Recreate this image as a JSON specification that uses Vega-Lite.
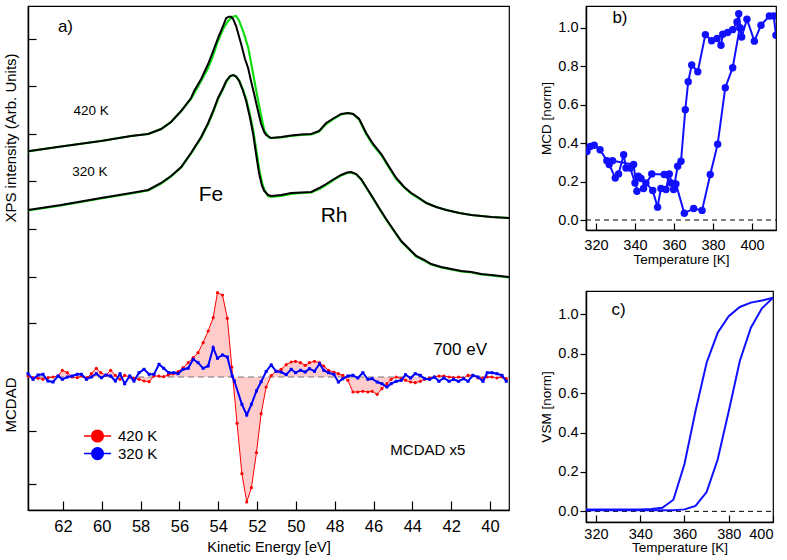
{
  "$schema": "https://vega.github.io/schema/vega-lite/v6.json",
  "padding": {"left": 3, "top": 5, "right": 5, "bottom": 2},
  "bounds": "flush",
  "spacing": 77,
  "config": {
    "font": "Liberation Sans",
    "view": {"stroke": "black", "strokeWidth": 1.2},
    "axis": {"domainColor": "black", "domainWidth": 1.5, "tickColor": "black", "tickWidth": 1.2, "labelColor": "black", "titleColor": "black", "grid": false, "labelFont": "Liberation Sans", "titleFont": "Liberation Sans", "titleFontWeight": "normal"},
    "text": {"font": "Liberation Sans", "color": "black"}
  },
  "datasets": {
    "xps": [
      {"E":63.80,"y":2.257,"T":"420 K","c":"k"},{"E":62.10,"y":2.305,"T":"420 K","c":"k"},{"E":60.04,"y":2.36,"T":"420 K","c":"k"},{"E":58.49,"y":2.41,"T":"420 K","c":"k"},{"E":57.61,"y":2.43,"T":"420 K","c":"k"},{"E":56.94,"y":2.48,"T":"420 K","c":"k"},{"E":56.43,"y":2.55,"T":"420 K","c":"k"},{"E":55.91,"y":2.66,"T":"420 K","c":"k"},{"E":55.40,"y":2.79,"T":"420 K","c":"k"},{"E":55.24,"y":2.86,"T":"420 K","c":"k"},{"E":54.88,"y":2.98,"T":"420 K","c":"k"},{"E":54.52,"y":3.13,"T":"420 K","c":"k"},{"E":54.26,"y":3.26,"T":"420 K","c":"k"},{"E":54.01,"y":3.39,"T":"420 K","c":"k"},{"E":53.75,"y":3.51,"T":"420 K","c":"k"},{"E":53.59,"y":3.59,"T":"420 K","c":"k"},{"E":53.44,"y":3.603,"T":"420 K","c":"k"},{"E":53.34,"y":3.603,"T":"420 K","c":"k"},{"E":53.23,"y":3.58,"T":"420 K","c":"k"},{"E":53.08,"y":3.51,"T":"420 K","c":"k"},{"E":52.82,"y":3.33,"T":"420 K","c":"k"},{"E":52.62,"y":3.18,"T":"420 K","c":"k"},{"E":52.46,"y":3.09,"T":"420 K","c":"k"},{"E":52.31,"y":2.96,"T":"420 K","c":"k"},{"E":52.15,"y":2.83,"T":"420 K","c":"k"},{"E":51.95,"y":2.66,"T":"420 K","c":"k"},{"E":51.79,"y":2.53,"T":"420 K","c":"k"},{"E":51.63,"y":2.45,"T":"420 K","c":"k"},{"E":51.53,"y":2.42,"T":"420 K","c":"k"},{"E":51.27,"y":2.39,"T":"420 K","c":"k"},{"E":50.76,"y":2.40,"T":"420 K","c":"k"},{"E":50.24,"y":2.415,"T":"420 K","c":"k"},{"E":49.73,"y":2.425,"T":"420 K","c":"k"},{"E":49.21,"y":2.43,"T":"420 K","c":"k"},{"E":48.80,"y":2.46,"T":"420 K","c":"k"},{"E":48.44,"y":2.54,"T":"420 K","c":"k"},{"E":48.03,"y":2.59,"T":"420 K","c":"k"},{"E":47.67,"y":2.63,"T":"420 K","c":"k"},{"E":47.31,"y":2.64,"T":"420 K","c":"k"},{"E":47.05,"y":2.63,"T":"420 K","c":"k"},{"E":46.74,"y":2.58,"T":"420 K","c":"k"},{"E":46.38,"y":2.44,"T":"420 K","c":"k"},{"E":46.02,"y":2.33,"T":"420 K","c":"k"},{"E":45.60,"y":2.23,"T":"420 K","c":"k"},{"E":45.19,"y":2.10,"T":"420 K","c":"k"},{"E":44.83,"y":1.99,"T":"420 K","c":"k"},{"E":44.42,"y":1.90,"T":"420 K","c":"k"},{"E":44.06,"y":1.84,"T":"420 K","c":"k"},{"E":43.65,"y":1.79,"T":"420 K","c":"k"},{"E":43.28,"y":1.74,"T":"420 K","c":"k"},{"E":42.77,"y":1.70,"T":"420 K","c":"k"},{"E":42.25,"y":1.67,"T":"420 K","c":"k"},{"E":41.58,"y":1.64,"T":"420 K","c":"k"},{"E":40.96,"y":1.62,"T":"420 K","c":"k"},{"E":39.93,"y":1.60,"T":"420 K","c":"k"},{"E":39.02,"y":1.59,"T":"420 K","c":"k"},
      {"E":63.80,"y":2.257,"T":"420 K","c":"g"},{"E":62.10,"y":2.305,"T":"420 K","c":"g"},{"E":60.04,"y":2.36,"T":"420 K","c":"g"},{"E":58.49,"y":2.41,"T":"420 K","c":"g"},{"E":57.61,"y":2.43,"T":"420 K","c":"g"},{"E":56.94,"y":2.48,"T":"420 K","c":"g"},{"E":56.43,"y":2.55,"T":"420 K","c":"g"},{"E":55.91,"y":2.66,"T":"420 K","c":"g"},{"E":55.40,"y":2.78,"T":"420 K","c":"g"},{"E":54.88,"y":2.96,"T":"420 K","c":"g"},{"E":54.52,"y":3.09,"T":"420 K","c":"g"},{"E":54.26,"y":3.22,"T":"420 K","c":"g"},{"E":54.01,"y":3.36,"T":"420 K","c":"g"},{"E":53.75,"y":3.48,"T":"420 K","c":"g"},{"E":53.49,"y":3.56,"T":"420 K","c":"g"},{"E":53.28,"y":3.60,"T":"420 K","c":"g"},{"E":53.08,"y":3.61,"T":"420 K","c":"g"},{"E":52.92,"y":3.56,"T":"420 K","c":"g"},{"E":52.72,"y":3.46,"T":"420 K","c":"g"},{"E":52.45,"y":3.29,"T":"420 K","c":"g"},{"E":52.20,"y":3.03,"T":"420 K","c":"g"},{"E":52.02,"y":2.84,"T":"420 K","c":"g"},{"E":51.84,"y":2.66,"T":"420 K","c":"g"},{"E":51.62,"y":2.46,"T":"420 K","c":"g"},{"E":51.36,"y":2.39,"T":"420 K","c":"g"},{"E":50.76,"y":2.395,"T":"420 K","c":"g"},{"E":50.24,"y":2.41,"T":"420 K","c":"g"},{"E":49.73,"y":2.42,"T":"420 K","c":"g"},{"E":49.21,"y":2.425,"T":"420 K","c":"g"},{"E":48.80,"y":2.455,"T":"420 K","c":"g"},{"E":48.44,"y":2.53,"T":"420 K","c":"g"},{"E":48.03,"y":2.585,"T":"420 K","c":"g"},{"E":47.67,"y":2.625,"T":"420 K","c":"g"},{"E":47.31,"y":2.64,"T":"420 K","c":"g"},{"E":47.05,"y":2.63,"T":"420 K","c":"g"},{"E":46.74,"y":2.575,"T":"420 K","c":"g"},{"E":46.38,"y":2.43,"T":"420 K","c":"g"},{"E":46.02,"y":2.32,"T":"420 K","c":"g"},{"E":45.60,"y":2.22,"T":"420 K","c":"g"},{"E":45.19,"y":2.09,"T":"420 K","c":"g"},{"E":44.83,"y":1.98,"T":"420 K","c":"g"},{"E":44.42,"y":1.895,"T":"420 K","c":"g"},{"E":44.06,"y":1.835,"T":"420 K","c":"g"},{"E":43.65,"y":1.785,"T":"420 K","c":"g"},{"E":43.28,"y":1.74,"T":"420 K","c":"g"},{"E":42.77,"y":1.70,"T":"420 K","c":"g"},{"E":42.25,"y":1.67,"T":"420 K","c":"g"},{"E":41.58,"y":1.64,"T":"420 K","c":"g"},{"E":40.96,"y":1.62,"T":"420 K","c":"g"},{"E":39.93,"y":1.60,"T":"420 K","c":"g"},{"E":39.02,"y":1.59,"T":"420 K","c":"g"},
      {"E":63.80,"y":1.67,"T":"320 K","c":"k"},{"E":62.10,"y":1.72,"T":"320 K","c":"k"},{"E":60.04,"y":1.79,"T":"320 K","c":"k"},{"E":58.49,"y":1.84,"T":"320 K","c":"k"},{"E":57.61,"y":1.87,"T":"320 K","c":"k"},{"E":56.94,"y":1.94,"T":"320 K","c":"k"},{"E":56.43,"y":2.01,"T":"320 K","c":"k"},{"E":55.91,"y":2.10,"T":"320 K","c":"k"},{"E":55.40,"y":2.24,"T":"320 K","c":"k"},{"E":55.24,"y":2.29,"T":"320 K","c":"k"},{"E":54.88,"y":2.40,"T":"320 K","c":"k"},{"E":54.52,"y":2.54,"T":"320 K","c":"k"},{"E":54.26,"y":2.66,"T":"320 K","c":"k"},{"E":54.01,"y":2.79,"T":"320 K","c":"k"},{"E":53.75,"y":2.89,"T":"320 K","c":"k"},{"E":53.59,"y":2.96,"T":"320 K","c":"k"},{"E":53.39,"y":3.01,"T":"320 K","c":"k"},{"E":53.23,"y":3.02,"T":"320 K","c":"k"},{"E":53.08,"y":3.005,"T":"320 K","c":"k"},{"E":52.92,"y":2.96,"T":"320 K","c":"k"},{"E":52.72,"y":2.86,"T":"320 K","c":"k"},{"E":52.56,"y":2.76,"T":"320 K","c":"k"},{"E":52.36,"y":2.59,"T":"320 K","c":"k"},{"E":52.20,"y":2.43,"T":"320 K","c":"k"},{"E":52.05,"y":2.23,"T":"320 K","c":"k"},{"E":51.89,"y":2.03,"T":"320 K","c":"k"},{"E":51.74,"y":1.91,"T":"320 K","c":"k"},{"E":51.63,"y":1.86,"T":"320 K","c":"k"},{"E":51.43,"y":1.82,"T":"320 K","c":"k"},{"E":51.27,"y":1.81,"T":"320 K","c":"k"},{"E":50.76,"y":1.82,"T":"320 K","c":"k"},{"E":50.24,"y":1.84,"T":"320 K","c":"k"},{"E":49.73,"y":1.845,"T":"320 K","c":"k"},{"E":49.21,"y":1.85,"T":"320 K","c":"k"},{"E":48.80,"y":1.89,"T":"320 K","c":"k"},{"E":48.44,"y":1.93,"T":"320 K","c":"k"},{"E":48.03,"y":1.98,"T":"320 K","c":"k"},{"E":47.67,"y":2.02,"T":"320 K","c":"k"},{"E":47.36,"y":2.045,"T":"320 K","c":"k"},{"E":47.15,"y":2.05,"T":"320 K","c":"k"},{"E":46.89,"y":2.03,"T":"320 K","c":"k"},{"E":46.64,"y":1.98,"T":"320 K","c":"k"},{"E":46.12,"y":1.82,"T":"320 K","c":"k"},{"E":45.71,"y":1.69,"T":"320 K","c":"k"},{"E":45.35,"y":1.58,"T":"320 K","c":"k"},{"E":44.93,"y":1.46,"T":"320 K","c":"k"},{"E":44.57,"y":1.36,"T":"320 K","c":"k"},{"E":44.16,"y":1.28,"T":"320 K","c":"k"},{"E":43.80,"y":1.21,"T":"320 K","c":"k"},{"E":43.39,"y":1.17,"T":"320 K","c":"k"},{"E":43.03,"y":1.13,"T":"320 K","c":"k"},{"E":42.51,"y":1.10,"T":"320 K","c":"k"},{"E":42.00,"y":1.08,"T":"320 K","c":"k"},{"E":41.48,"y":1.06,"T":"320 K","c":"k"},{"E":40.96,"y":1.05,"T":"320 K","c":"k"},{"E":40.45,"y":1.03,"T":"320 K","c":"k"},{"E":39.93,"y":1.02,"T":"320 K","c":"k"},{"E":39.02,"y":1.00,"T":"320 K","c":"k"},
      {"E":63.80,"y":1.665,"T":"320 K","c":"g"},{"E":62.10,"y":1.715,"T":"320 K","c":"g"},{"E":60.04,"y":1.785,"T":"320 K","c":"g"},{"E":58.49,"y":1.835,"T":"320 K","c":"g"},{"E":57.61,"y":1.865,"T":"320 K","c":"g"},{"E":56.94,"y":1.935,"T":"320 K","c":"g"},{"E":56.43,"y":2.005,"T":"320 K","c":"g"},{"E":55.91,"y":2.095,"T":"320 K","c":"g"},{"E":55.40,"y":2.235,"T":"320 K","c":"g"},{"E":54.88,"y":2.39,"T":"320 K","c":"g"},{"E":54.52,"y":2.53,"T":"320 K","c":"g"},{"E":54.26,"y":2.65,"T":"320 K","c":"g"},{"E":54.01,"y":2.78,"T":"320 K","c":"g"},{"E":53.75,"y":2.88,"T":"320 K","c":"g"},{"E":53.59,"y":2.95,"T":"320 K","c":"g"},{"E":53.39,"y":3.005,"T":"320 K","c":"g"},{"E":53.23,"y":3.02,"T":"320 K","c":"g"},{"E":53.08,"y":3.005,"T":"320 K","c":"g"},{"E":52.92,"y":2.965,"T":"320 K","c":"g"},{"E":52.72,"y":2.87,"T":"320 K","c":"g"},{"E":52.56,"y":2.78,"T":"320 K","c":"g"},{"E":52.36,"y":2.62,"T":"320 K","c":"g"},{"E":52.20,"y":2.47,"T":"320 K","c":"g"},{"E":52.05,"y":2.28,"T":"320 K","c":"g"},{"E":51.89,"y":2.08,"T":"320 K","c":"g"},{"E":51.74,"y":1.94,"T":"320 K","c":"g"},{"E":51.63,"y":1.875,"T":"320 K","c":"g"},{"E":51.43,"y":1.81,"T":"320 K","c":"g"},{"E":51.27,"y":1.80,"T":"320 K","c":"g"},{"E":50.76,"y":1.81,"T":"320 K","c":"g"},{"E":50.24,"y":1.83,"T":"320 K","c":"g"},{"E":49.73,"y":1.84,"T":"320 K","c":"g"},{"E":49.21,"y":1.845,"T":"320 K","c":"g"},{"E":48.80,"y":1.88,"T":"320 K","c":"g"},{"E":48.44,"y":1.92,"T":"320 K","c":"g"},{"E":48.03,"y":1.975,"T":"320 K","c":"g"},{"E":47.67,"y":2.015,"T":"320 K","c":"g"},{"E":47.36,"y":2.04,"T":"320 K","c":"g"},{"E":47.15,"y":2.045,"T":"320 K","c":"g"},{"E":46.89,"y":2.025,"T":"320 K","c":"g"},{"E":46.64,"y":1.975,"T":"320 K","c":"g"},{"E":46.12,"y":1.815,"T":"320 K","c":"g"},{"E":45.71,"y":1.685,"T":"320 K","c":"g"},{"E":45.35,"y":1.575,"T":"320 K","c":"g"},{"E":44.93,"y":1.455,"T":"320 K","c":"g"},{"E":44.57,"y":1.355,"T":"320 K","c":"g"},{"E":44.16,"y":1.275,"T":"320 K","c":"g"},{"E":43.80,"y":1.205,"T":"320 K","c":"g"},{"E":43.39,"y":1.165,"T":"320 K","c":"g"},{"E":43.03,"y":1.125,"T":"320 K","c":"g"},{"E":42.51,"y":1.095,"T":"320 K","c":"g"},{"E":42.00,"y":1.075,"T":"320 K","c":"g"},{"E":41.48,"y":1.055,"T":"320 K","c":"g"},{"E":40.96,"y":1.045,"T":"320 K","c":"g"},{"E":40.45,"y":1.025,"T":"320 K","c":"g"},{"E":39.93,"y":1.015,"T":"320 K","c":"g"},{"E":39.02,"y":0.995,"T":"320 K","c":"g"}
    ],
    "mcdad": [
      {"E":63.80,"y":0.01,"T":"420 K"},{"E":63.54,"y":-0.007,"T":"420 K"},{"E":63.28,"y":-0.013,"T":"420 K"},{"E":63.03,"y":-0.023,"T":"420 K"},{"E":62.77,"y":-0.007,"T":"420 K"},{"E":62.51,"y":0,"T":"420 K"},{"E":62.25,"y":0.01,"T":"420 K"},{"E":62.03,"y":0.067,"T":"420 K"},{"E":61.77,"y":0.043,"T":"420 K"},{"E":61.52,"y":0,"T":"420 K"},{"E":61.26,"y":-0.007,"T":"420 K"},{"E":61.00,"y":0.01,"T":"420 K"},{"E":60.74,"y":-0.007,"T":"420 K"},{"E":60.54,"y":0.033,"T":"420 K"},{"E":60.28,"y":0.087,"T":"420 K"},{"E":60.05,"y":0.043,"T":"420 K"},{"E":59.79,"y":0.017,"T":"420 K"},{"E":59.54,"y":0.067,"T":"420 K"},{"E":59.30,"y":0.017,"T":"420 K"},{"E":59.06,"y":-0.023,"T":"420 K"},{"E":58.82,"y":0.017,"T":"420 K"},{"E":58.56,"y":0,"T":"420 K"},{"E":58.34,"y":-0.013,"T":"420 K"},{"E":58.08,"y":-0.023,"T":"420 K"},{"E":57.82,"y":-0.04,"T":"420 K"},{"E":57.56,"y":-0.047,"T":"420 K"},{"E":57.31,"y":0.01,"T":"420 K"},{"E":57.06,"y":0.01,"T":"420 K"},{"E":56.81,"y":0.003,"T":"420 K"},{"E":56.58,"y":0.02,"T":"420 K"},{"E":56.33,"y":0.033,"T":"420 K"},{"E":56.07,"y":0.053,"T":"420 K"},{"E":55.81,"y":0.093,"T":"420 K"},{"E":55.55,"y":0.143,"T":"420 K"},{"E":55.29,"y":0.193,"T":"420 K"},{"E":55.04,"y":0.243,"T":"420 K"},{"E":54.78,"y":0.343,"T":"420 K"},{"E":54.52,"y":0.46,"T":"420 K"},{"E":54.26,"y":0.593,"T":"420 K"},{"E":54.04,"y":0.843,"T":"420 K"},{"E":53.78,"y":0.82,"T":"420 K"},{"E":53.53,"y":0.587,"T":"420 K"},{"E":53.30,"y":0.10,"T":"420 K"},{"E":53.03,"y":-0.463,"T":"420 K"},{"E":52.78,"y":-0.967,"T":"420 K"},{"E":52.53,"y":-1.25,"T":"420 K"},{"E":52.29,"y":-1.107,"T":"420 K"},{"E":52.03,"y":-0.757,"T":"420 K"},{"E":51.79,"y":-0.367,"T":"420 K"},{"E":51.53,"y":-0.10,"T":"420 K"},{"E":51.27,"y":0.015,"T":"420 K"},{"E":51.02,"y":0.057,"T":"420 K"},{"E":50.76,"y":0.077,"T":"420 K"},{"E":50.50,"y":0.123,"T":"420 K"},{"E":50.24,"y":0.15,"T":"420 K"},{"E":50.02,"y":0.157,"T":"420 K"},{"E":49.76,"y":0.143,"T":"420 K"},{"E":49.52,"y":0.117,"T":"420 K"},{"E":49.30,"y":0.143,"T":"420 K"},{"E":49.04,"y":0.157,"T":"420 K"},{"E":48.78,"y":0.143,"T":"420 K"},{"E":48.56,"y":0.11,"T":"420 K"},{"E":48.32,"y":0.067,"T":"420 K"},{"E":48.04,"y":0.05,"T":"420 K"},{"E":47.81,"y":0.033,"T":"420 K"},{"E":47.58,"y":0.017,"T":"420 K"},{"E":47.32,"y":-0.033,"T":"420 K"},{"E":47.06,"y":-0.15,"T":"420 K"},{"E":46.81,"y":-0.15,"T":"420 K"},{"E":46.55,"y":-0.143,"T":"420 K"},{"E":46.29,"y":-0.15,"T":"420 K"},{"E":46.07,"y":-0.143,"T":"420 K"},{"E":45.81,"y":-0.173,"T":"420 K"},{"E":45.57,"y":-0.117,"T":"420 K"},{"E":45.31,"y":-0.067,"T":"420 K"},{"E":45.09,"y":-0.023,"T":"420 K"},{"E":44.83,"y":0,"T":"420 K"},{"E":44.57,"y":-0.017,"T":"420 K"},{"E":44.35,"y":-0.033,"T":"420 K"},{"E":44.09,"y":-0.05,"T":"420 K"},{"E":43.85,"y":-0.057,"T":"420 K"},{"E":43.59,"y":-0.043,"T":"420 K"},{"E":43.37,"y":-0.023,"T":"420 K"},{"E":43.11,"y":-0.01,"T":"420 K"},{"E":42.86,"y":0,"T":"420 K"},{"E":42.63,"y":0.01,"T":"420 K"},{"E":42.37,"y":0.01,"T":"420 K"},{"E":42.11,"y":0,"T":"420 K"},{"E":41.88,"y":-0.007,"T":"420 K"},{"E":41.62,"y":0,"T":"420 K"},{"E":41.36,"y":-0.01,"T":"420 K"},{"E":41.13,"y":0.017,"T":"420 K"},{"E":40.88,"y":0.017,"T":"420 K"},{"E":40.62,"y":-0.01,"T":"420 K"},{"E":40.36,"y":-0.01,"T":"420 K"},{"E":40.14,"y":0,"T":"420 K"},{"E":39.90,"y":0,"T":"420 K"},{"E":39.64,"y":-0.01,"T":"420 K"},{"E":39.38,"y":0,"T":"420 K"},{"E":39.16,"y":-0.017,"T":"420 K"},
      {"E":63.80,"y":0.033,"T":"320 K"},{"E":63.54,"y":-0.023,"T":"320 K"},{"E":63.28,"y":0.02,"T":"320 K"},{"E":63.03,"y":0.027,"T":"320 K"},{"E":62.77,"y":-0.04,"T":"320 K"},{"E":62.51,"y":-0.05,"T":"320 K"},{"E":62.25,"y":0.01,"T":"320 K"},{"E":62.03,"y":-0.023,"T":"320 K"},{"E":61.77,"y":0,"T":"320 K"},{"E":61.52,"y":0.01,"T":"320 K"},{"E":61.26,"y":0.027,"T":"320 K"},{"E":61.05,"y":0.027,"T":"320 K"},{"E":60.79,"y":-0.023,"T":"320 K"},{"E":60.54,"y":0,"T":"320 K"},{"E":60.28,"y":0.033,"T":"320 K"},{"E":60.02,"y":-0.007,"T":"320 K"},{"E":59.79,"y":0.02,"T":"320 K"},{"E":59.54,"y":0.01,"T":"320 K"},{"E":59.30,"y":-0.04,"T":"320 K"},{"E":59.06,"y":0.033,"T":"320 K"},{"E":58.82,"y":-0.067,"T":"320 K"},{"E":58.56,"y":0.01,"T":"320 K"},{"E":58.34,"y":-0.04,"T":"320 K"},{"E":58.08,"y":0.043,"T":"320 K"},{"E":57.82,"y":0.077,"T":"320 K"},{"E":57.56,"y":0.027,"T":"320 K"},{"E":57.31,"y":0.027,"T":"320 K"},{"E":57.05,"y":0.127,"T":"320 K"},{"E":56.81,"y":0.087,"T":"320 K"},{"E":56.55,"y":0.043,"T":"320 K"},{"E":56.29,"y":0.043,"T":"320 K"},{"E":56.07,"y":0.033,"T":"320 K"},{"E":55.81,"y":0.077,"T":"320 K"},{"E":55.55,"y":0.087,"T":"320 K"},{"E":55.29,"y":0.177,"T":"320 K"},{"E":55.04,"y":0.143,"T":"320 K"},{"E":54.78,"y":0.087,"T":"320 K"},{"E":54.52,"y":0.11,"T":"320 K"},{"E":54.26,"y":0.293,"T":"320 K"},{"E":54.04,"y":0.187,"T":"320 K"},{"E":53.78,"y":0.22,"T":"320 K"},{"E":53.53,"y":0.20,"T":"320 K"},{"E":53.28,"y":0.01,"T":"320 K"},{"E":53.17,"y":-0.04,"T":"320 K"},{"E":52.78,"y":-0.273,"T":"320 K"},{"E":52.53,"y":-0.38,"T":"320 K"},{"E":52.29,"y":-0.273,"T":"320 K"},{"E":52.03,"y":-0.14,"T":"320 K"},{"E":51.79,"y":-0.047,"T":"320 K"},{"E":51.53,"y":0.055,"T":"320 K"},{"E":51.27,"y":0.12,"T":"320 K"},{"E":51.02,"y":0.057,"T":"320 K"},{"E":50.76,"y":0.05,"T":"320 K"},{"E":50.50,"y":0.023,"T":"320 K"},{"E":50.24,"y":0.077,"T":"320 K"},{"E":50.02,"y":0.043,"T":"320 K"},{"E":49.76,"y":0.067,"T":"320 K"},{"E":49.52,"y":0.05,"T":"320 K"},{"E":49.30,"y":0.083,"T":"320 K"},{"E":49.04,"y":0.057,"T":"320 K"},{"E":48.78,"y":0.133,"T":"320 K"},{"E":48.56,"y":0.067,"T":"320 K"},{"E":48.32,"y":0.043,"T":"320 K"},{"E":48.04,"y":0.027,"T":"320 K"},{"E":47.81,"y":-0.05,"T":"320 K"},{"E":47.58,"y":-0.017,"T":"320 K"},{"E":47.32,"y":0.01,"T":"320 K"},{"E":47.06,"y":0.017,"T":"320 K"},{"E":46.81,"y":-0.01,"T":"320 K"},{"E":46.55,"y":0.043,"T":"320 K"},{"E":46.29,"y":-0.023,"T":"320 K"},{"E":46.07,"y":-0.017,"T":"320 K"},{"E":45.81,"y":-0.05,"T":"320 K"},{"E":45.57,"y":-0.067,"T":"320 K"},{"E":45.31,"y":-0.10,"T":"320 K"},{"E":45.09,"y":-0.067,"T":"320 K"},{"E":44.83,"y":-0.043,"T":"320 K"},{"E":44.57,"y":-0.033,"T":"320 K"},{"E":44.35,"y":0.023,"T":"320 K"},{"E":44.09,"y":-0.01,"T":"320 K"},{"E":43.85,"y":0.033,"T":"320 K"},{"E":43.59,"y":0.017,"T":"320 K"},{"E":43.37,"y":-0.017,"T":"320 K"},{"E":43.11,"y":-0.023,"T":"320 K"},{"E":42.86,"y":0,"T":"320 K"},{"E":42.63,"y":-0.043,"T":"320 K"},{"E":42.37,"y":-0.01,"T":"320 K"},{"E":42.11,"y":-0.043,"T":"320 K"},{"E":41.88,"y":-0.023,"T":"320 K"},{"E":41.62,"y":-0.043,"T":"320 K"},{"E":41.36,"y":-0.017,"T":"320 K"},{"E":41.13,"y":-0.043,"T":"320 K"},{"E":40.88,"y":0.017,"T":"320 K"},{"E":40.62,"y":0,"T":"320 K"},{"E":40.36,"y":-0.043,"T":"320 K"},{"E":40.14,"y":0.043,"T":"320 K"},{"E":39.90,"y":0.043,"T":"320 K"},{"E":39.64,"y":0.033,"T":"320 K"},{"E":39.38,"y":0.017,"T":"320 K"},{"E":39.16,"y":-0.043,"T":"320 K"}
    ],
    "mcd": [
      {"T":315.4,"M":0.357,"b":"heat"},{"T":317.1,"M":0.383,"b":"heat"},{"T":319.1,"M":0.389,"b":"heat"},{"T":322.1,"M":0.366,"b":"heat"},{"T":325.6,"M":0.309,"b":"heat"},{"T":326.8,"M":0.289,"b":"heat"},{"T":329.9,"M":0.219,"b":"heat"},{"T":331.6,"M":0.24,"b":"heat"},{"T":334.2,"M":0.34,"b":"heat"},{"T":335.4,"M":0.271,"b":"heat"},{"T":337.6,"M":0.271,"b":"heat"},{"T":340.0,"M":0.193,"b":"heat"},{"T":341.7,"M":0.228,"b":"heat"},{"T":343.1,"M":0.216,"b":"heat"},{"T":345.6,"M":0.193,"b":"heat"},{"T":349.1,"M":0.154,"b":"heat"},{"T":351.6,"M":0.067,"b":"heat"},{"T":353.3,"M":0.164,"b":"heat"},{"T":355.9,"M":0.159,"b":"heat"},{"T":357.6,"M":0.24,"b":"heat"},{"T":359.8,"M":0.159,"b":"heat"},{"T":361.9,"M":0.28,"b":"heat"},{"T":363.6,"M":0.306,"b":"heat"},{"T":365.8,"M":0.574,"b":"heat"},{"T":367.3,"M":0.72,"b":"heat"},{"T":369.1,"M":0.807,"b":"heat"},{"T":372.2,"M":0.772,"b":"heat"},{"T":376.1,"M":0.965,"b":"heat"},{"T":379.3,"M":0.933,"b":"heat"},{"T":382.1,"M":0.945,"b":"heat"},{"T":384.1,"M":0.91,"b":"heat"},{"T":385.0,"M":0.967,"b":"heat"},{"T":387.5,"M":0.976,"b":"heat"},{"T":390.1,"M":0.991,"b":"heat"},{"T":392.3,"M":1.031,"b":"heat"},{"T":393.2,"M":1.074,"b":"heat"},{"T":394.0,"M":1.0,"b":"heat"},{"T":394.7,"M":0.953,"b":"heat"},{"T":397.4,"M":1.045,"b":"heat"},{"T":401.2,"M":0.931,"b":"heat"},{"T":404.6,"M":1.014,"b":"heat"},{"T":408.9,"M":1.062,"b":"heat"},{"T":411.1,"M":1.062,"b":"heat"},{"T":412.3,"M":0.962,"b":"heat"},
      {"T":393.7,"M":1.0,"b":"cool"},{"T":390.1,"M":0.793,"b":"cool"},{"T":386.3,"M":0.689,"b":"cool"},{"T":382.4,"M":0.395,"b":"cool"},{"T":378.6,"M":0.237,"b":"cool"},{"T":374.4,"M":0.05,"b":"cool"},{"T":370.1,"M":0.06,"b":"cool"},{"T":365.3,"M":0.035,"b":"cool"},{"T":361.0,"M":0.188,"b":"cool"},{"T":358.5,"M":0.193,"b":"cool"},{"T":355.0,"M":0.237,"b":"cool"},{"T":348.6,"M":0.24,"b":"cool"},{"T":344.4,"M":0.164,"b":"cool"},{"T":341.0,"M":0.15,"b":"cool"},{"T":339.3,"M":0.289,"b":"cool"},{"T":328.5,"M":0.309,"b":"cool"}
    ],
    "vsm": [
      {"T":315.5,"V":0.01,"b":"a"},{"T":320,"V":0.01,"b":"a"},{"T":330,"V":0.01,"b":"a"},{"T":340,"V":0.01,"b":"a"},{"T":345,"V":0.012,"b":"a"},{"T":350,"V":0.018,"b":"a"},{"T":355,"V":0.059,"b":"a"},{"T":360,"V":0.24,"b":"a"},{"T":365,"V":0.51,"b":"a"},{"T":370,"V":0.754,"b":"a"},{"T":375,"V":0.906,"b":"a"},{"T":380,"V":0.99,"b":"a"},{"T":385,"V":1.037,"b":"a"},{"T":390,"V":1.059,"b":"a"},{"T":395,"V":1.07,"b":"a"},{"T":400,"V":1.084,"b":"a"},
      {"T":315.5,"V":0.005,"b":"b"},{"T":330,"V":0.005,"b":"b"},{"T":340,"V":0.005,"b":"b"},{"T":350,"V":0.005,"b":"b"},{"T":355,"V":0.005,"b":"b"},{"T":360,"V":0.01,"b":"b"},{"T":365,"V":0.028,"b":"b"},{"T":370,"V":0.098,"b":"b"},{"T":375,"V":0.263,"b":"b"},{"T":380,"V":0.508,"b":"b"},{"T":385,"V":0.763,"b":"b"},{"T":390,"V":0.932,"b":"b"},{"T":395,"V":1.03,"b":"b"},{"T":400,"V":1.084,"b":"b"}
    ]
  },
  "hconcat": [
    {
      "width": 481,
      "height": 504,
      "layer": [
        {"data": {"name": "mcdad"}, "transform": [{"filter": "datum.T == '420 K'"}], "mark": {"type": "area", "color": "#ffcccc", "opacity": 1},
         "encoding": {
           "x": {"field": "E", "type": "quantitative", "scale": {"domain": [39.02, 63.8], "reverse": true, "nice": false, "zero": false},
                 "axis": {"title": "Kinetic Energy [eV]", "values": [40,42,44,46,48,50,52,54,56,58,60,62], "format": "d", "tickSize": -9, "labelFontSize": 16.5, "labelPadding": 17, "titleFontSize": 14.5, "titlePadding": 6}},
           "y": {"field": "y", "type": "quantitative", "scale": {"domain": [-1.33, 3.71], "nice": false, "zero": false},
                 "axis": {"title": null, "labels": false, "values": [-1.073, -0.537, 0.537, 1.003, 1.48, 1.957, 2.433, 2.91, 3.383], "tickSize": -8}},
           "y2": {"datum": 0}}},
        {"data": {"values": [{"k": 0}]}, "mark": {"type": "rule", "color": "#777777", "strokeDash": [6, 4], "strokeWidth": 1.2}, "encoding": {"x": {"value": 0}, "x2": {"value": 481}, "y": {"datum": 0}}},
        {"data": {"name": "xps"}, "transform": [{"filter": "datum.c == 'g'"}], "mark": {"type": "line", "color": "#11dd11", "strokeWidth": 2.2}, "encoding": {"x": {"field": "E", "type": "quantitative"}, "y": {"field": "y", "type": "quantitative"}, "detail": {"field": "T"}}},
        {"data": {"name": "xps"}, "transform": [{"filter": "datum.c == 'k'"}], "mark": {"type": "line", "color": "#000000", "strokeWidth": 2}, "encoding": {"x": {"field": "E", "type": "quantitative"}, "y": {"field": "y", "type": "quantitative"}, "detail": {"field": "T"}}},
        {"data": {"name": "mcdad"}, "transform": [{"filter": "datum.T == '420 K'"}], "mark": {"type": "line", "strokeWidth": 1, "point": {"filled": true, "size": 10}},
         "encoding": {"x": {"field": "E", "type": "quantitative"}, "y": {"field": "y", "type": "quantitative"},
           "color": {"field": "T", "type": "nominal", "scale": {"domain": ["420 K", "320 K"], "range": ["#ff0000", "#0000ff"]},
           "legend": {"title": null, "orient": "none", "legendX": 55, "legendY": 422, "symbolType": "M-1,0L1,0M-0.43,0A0.43,0.43,0,1,0,0.43,0A0.43,0.43,0,1,0,-0.43,0Z", "symbolSize": 729, "symbolStrokeWidth": 1.5, "clipHeight": 16, "labelFontSize": 15, "labelFont": "Liberation Sans", "labelColor": "black", "labelOffset": 6, "rowPadding": 1.6, "padding": 0}}}},
        {"data": {"name": "mcdad"}, "transform": [{"filter": "datum.T == '320 K'"}], "mark": {"type": "line", "strokeWidth": 2, "point": {"filled": true, "size": 9, "shape": "square"}},
         "encoding": {"x": {"field": "E", "type": "quantitative"}, "y": {"field": "y", "type": "quantitative"}, "color": {"field": "T", "type": "nominal"}}},
        {"data": {"values": [{"k": 0}]}, "mark": {"type": "text", "fontSize": 17}, "encoding": {"x": {"datum": 61.87}, "y": {"datum": 3.505}, "text": {"value": "a)"}}},
        {"data": {"values": [{"k": 0}]}, "mark": {"type": "text", "fontSize": 13.5}, "encoding": {"x": {"datum": 60.55}, "y": {"datum": 2.66}, "text": {"value": "420 K"}}},
        {"data": {"values": [{"k": 0}]}, "mark": {"type": "text", "fontSize": 13.5}, "encoding": {"x": {"datum": 60.61}, "y": {"datum": 2.05}, "text": {"value": "320 K"}}},
        {"data": {"values": [{"k": 0}]}, "mark": {"type": "text", "fontSize": 21}, "encoding": {"x": {"datum": 54.37}, "y": {"datum": 1.82}, "text": {"value": "Fe"}}},
        {"data": {"values": [{"k": 0}]}, "mark": {"type": "text", "fontSize": 21}, "encoding": {"x": {"datum": 48.03}, "y": {"datum": 1.61}, "text": {"value": "Rh"}}},
        {"data": {"values": [{"k": 0}]}, "mark": {"type": "text", "fontSize": 17}, "encoding": {"x": {"datum": 41.54}, "y": {"datum": 0.27}, "text": {"value": "700 eV"}}},
        {"data": {"values": [{"k": 0}]}, "mark": {"type": "text", "fontSize": 15}, "encoding": {"x": {"datum": 43.20}, "y": {"datum": -0.73}, "text": {"value": "MCDAD x5"}}},
        {"data": {"values": [{"k": 0}]}, "mark": {"type": "text", "fontSize": 15, "angle": 270}, "encoding": {"x": {"datum": 64.68}, "y": {"datum": 2.39}, "text": {"value": "XPS intensity (Arb. Units)"}}},
        {"data": {"values": [{"k": 0}]}, "mark": {"type": "text", "fontSize": 15, "angle": 270}, "encoding": {"x": {"datum": 64.68}, "y": {"datum": -0.28}, "text": {"value": "MCDAD"}}}
      ]
    },
    {
      "vconcat": [
        {
          "width": 190,
          "height": 224,
          "layer": [
            {"data": {"values": [{"k": 0}]}, "mark": {"type": "rule", "color": "black", "strokeDash": [5, 4], "strokeWidth": 1}, "encoding": {"x": {"value": 0}, "x2": {"value": 190}, "y": {"datum": 0}}},
            {"data": {"name": "mcd"}, "mark": {"type": "line", "color": "#1010ff", "strokeWidth": 2, "clip": true, "point": {"filled": true, "size": 55, "color": "#1010ff"}},
             "encoding": {
               "x": {"field": "T", "type": "quantitative", "scale": {"domain": [314.9, 412.3], "nice": false, "zero": false},
                     "axis": {"title": "Temperature [K]", "values": [320, 340, 360, 380, 400], "tickSize": -7, "labelFontSize": 14.5, "labelPadding": 15.5, "titleFontSize": 13.5, "titlePadding": 0}},
               "y": {"field": "M", "type": "quantitative", "scale": {"domain": [-0.052, 1.114], "nice": false, "zero": false},
                     "axis": {"title": "MCD [norm]", "values": [0, 0.1, 0.2, 0.3, 0.4, 0.5, 0.6, 0.7, 0.8, 0.9, 1.0, 1.1], "format": ".1f", "labelExpr": "round(datum.value*10) % 2 == 0 ? datum.label : ''", "tickSize": {"condition": {"test": "round(datum.value*10) % 2 == 0", "value": 6}, "value": 3}, "labelFontSize": 14.5, "labelPadding": 2, "titleFontSize": 13.5, "titlePadding": 4}},
               "detail": {"field": "b"}}},
            {"data": {"values": [{"k": 0}]}, "mark": {"type": "text", "fontSize": 17}, "encoding": {"x": {"datum": 332.3}, "y": {"datum": 1.054}, "text": {"value": "b)"}}}
          ]
        },
        {
          "width": 187,
          "height": 231,
          "layer": [
            {"data": {"values": [{"k": 0}]}, "mark": {"type": "rule", "color": "black", "strokeDash": [5, 4], "strokeWidth": 1}, "encoding": {"x": {"value": 0}, "x2": {"value": 187}, "y": {"datum": 0}}},
            {"data": {"name": "vsm"}, "mark": {"type": "line", "color": "#1010ff", "strokeWidth": 2},
             "encoding": {
               "x": {"field": "T", "type": "quantitative", "scale": {"domain": [315.5, 400], "nice": false, "zero": false},
                     "axis": {"title": "Temperature [K]", "values": [320, 340, 360, 380, 400], "tickSize": -7, "labelFontSize": 14.5, "labelPadding": 12, "titleFontSize": 13.5, "titlePadding": 0}},
               "y": {"field": "V", "type": "quantitative", "scale": {"domain": [-0.054, 1.118], "nice": false, "zero": false},
                     "axis": {"title": "VSM [norm]", "values": [0, 0.1, 0.2, 0.3, 0.4, 0.5, 0.6, 0.7, 0.8, 0.9, 1.0, 1.1], "format": ".1f", "labelExpr": "round(datum.value*10) % 2 == 0 ? datum.label : ''", "tickSize": {"condition": {"test": "round(datum.value*10) % 2 == 0", "value": 6}, "value": 3}, "labelFontSize": 14.5, "labelPadding": 2, "titleFontSize": 13.5, "titlePadding": 4}},
               "detail": {"field": "b"}}},
            {"data": {"values": [{"k": 0}]}, "mark": {"type": "text", "fontSize": 17}, "encoding": {"x": {"datum": 330.2}, "y": {"datum": 1.022}, "text": {"value": "c)"}}}
          ]
        }
      ],
      "spacing": 61,
      "bounds": "flush"
    }
  ]
}
